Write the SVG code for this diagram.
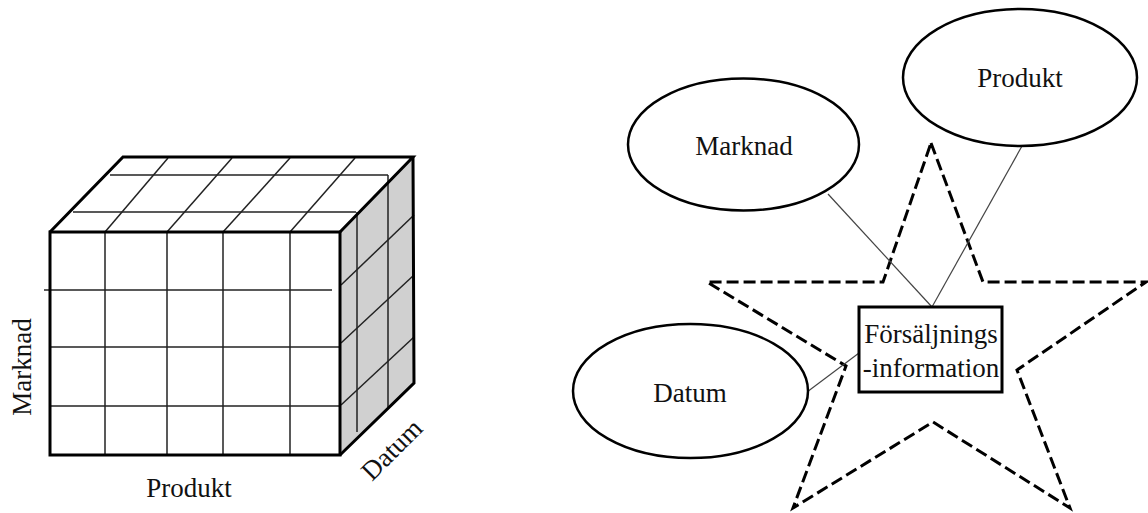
<svg xmlns="http://www.w3.org/2000/svg" width="1148" height="513" viewBox="0 0 1148 513">
  <style>
    .lbl { font-family: "Liberation Serif", "Times New Roman", serif; font-size: 27px; fill: #111; }
    .edge { stroke: #000; stroke-width: 3; fill: none; stroke-linejoin: miter; }
    .grid { stroke: #222; stroke-width: 1.5; fill: none; }
    .ell { fill: #fff; stroke: #000; stroke-width: 2.5; }
    .conn { stroke: #444; stroke-width: 1.2; fill: none; }
    .star { fill: none; stroke: #000; stroke-width: 3; stroke-dasharray: 12 5; }
  </style>
  <rect width="1148" height="513" fill="#fff"/>

  <g id="cube">
    <polygon points="50,232 123,157 413,157 340,232" fill="#fff"/>
    <polygon points="340,232 413,157 414,383 340,455" fill="#d0d0d0"/>
    <rect x="50" y="232" width="290" height="223" fill="#fff"/>
    <g class="grid">
      <line x1="105" y1="232" x2="105" y2="455"/>
      <line x1="167" y1="232" x2="167" y2="455"/>
      <line x1="223" y1="232" x2="223" y2="455"/>
      <line x1="290" y1="232" x2="290" y2="455"/>
      <line x1="44" y1="290" x2="332" y2="290"/>
      <line x1="50" y1="347" x2="340" y2="347"/>
      <line x1="50" y1="406" x2="340" y2="406"/>
      <line x1="110" y1="175" x2="388" y2="175"/>
      <line x1="73" y1="212" x2="356" y2="212"/>
      <line x1="105" y1="232" x2="168" y2="158"/>
      <line x1="167" y1="232" x2="232" y2="158"/>
      <line x1="223" y1="232" x2="290" y2="158"/>
      <line x1="290" y1="232" x2="355" y2="158"/>
      <line x1="357" y1="212" x2="357" y2="432"/>
      <line x1="388" y1="175" x2="388" y2="407"/>
      <line x1="341" y1="285" x2="414" y2="215"/>
      <line x1="341" y1="343" x2="414" y2="275"/>
      <line x1="341" y1="405" x2="414" y2="337"/>
    </g>
    <rect x="50" y="232" width="290" height="223" class="edge"/>
    <polyline points="50,232 123,157 413,157 340,232" class="edge"/>
    <polyline points="413,157 414,383 340,455" class="edge"/>
    <text class="lbl" transform="translate(31,367) rotate(-90)" text-anchor="middle">Marknad</text>
    <text class="lbl" x="189" y="497" text-anchor="middle">Produkt</text>
    <text class="lbl" transform="translate(398,456) rotate(-45)" text-anchor="middle">Datum</text>
  </g>

  <g id="star">
    <polygon class="star" points="931,143 983,282 1146,282 1017,370 1070,508 933,422 793,508 846,366 707,282 883,282"/>
  </g>

  <g id="connectors">
    <line class="conn" x1="828" y1="194" x2="932" y2="307"/>
    <line class="conn" x1="1022" y1="146" x2="932" y2="307"/>
    <line class="conn" x1="807" y1="392" x2="859" y2="353"/>
  </g>

  <g id="marknad">
    <ellipse class="ell" cx="743.5" cy="144.5" rx="115.5" ry="66"/>
    <text class="lbl" x="744" y="155" text-anchor="middle">Marknad</text>
  </g>
  <g id="produkt">
    <ellipse class="ell" cx="1020" cy="77.5" rx="117" ry="68.5"/>
    <text class="lbl" x="1020" y="87" text-anchor="middle">Produkt</text>
  </g>
  <g id="datum">
    <ellipse class="ell" cx="690.5" cy="391" rx="117.5" ry="67"/>
    <text class="lbl" x="690" y="402" text-anchor="middle">Datum</text>
  </g>
  <g id="forsaljningsinformation">
    <rect x="859" y="307" width="143" height="85" fill="#fff" stroke="#000" stroke-width="3"/>
    <text class="lbl" x="931" y="343" text-anchor="middle">Försäljnings</text>
    <text class="lbl" x="931" y="377" text-anchor="middle">-information</text>
  </g>
</svg>
